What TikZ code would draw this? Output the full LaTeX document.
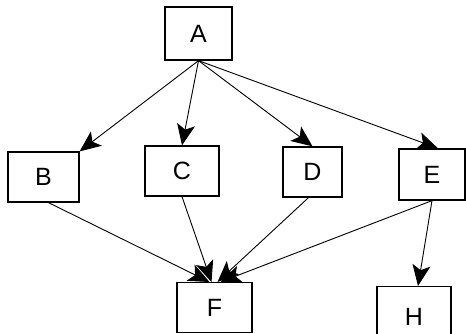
\documentclass[tikz,border=0pt]{standalone}
\usepackage{fontspec}
\setsansfont{Liberation Sans}
\usepackage{tikz}
\usetikzlibrary{arrows.meta}

\begin{document}
\begin{tikzpicture}[x=1pt,y=-1pt,
    box/.style={draw,line width=1.3pt,inner sep=0pt,
        font=\sffamily\fontsize{25}{29}\selectfont},
    topbox/.style={box,anchor=north,text height=18pt,text depth=0pt,
        inner ysep=6pt},
    arr/.style={-{Stealth[length=21pt,width=18pt,inset=5pt]},line width=0.9pt}]
    \useasboundingbox (0,0) rectangle (466,334);
    \clip (0,0) rectangle (466,334);
    \fill[white] (0,0) rectangle (466,334);
    \node[box,minimum width=67pt,minimum height=53pt] (A) at (198.5,33.5) {A};
    \node[box,minimum width=71pt,minimum height=50pt] (B) at (43.5,177) {B};
    \node[box,minimum width=74pt,minimum height=50pt] (C) at (182,171) {C};
    \node[box,minimum width=59pt,minimum height=50pt] (D) at (312.5,172) {D};
    \node[box,minimum width=66pt,minimum height=51pt] (E) at (432,174.5) {E};
    \node[topbox,minimum width=75pt,minimum height=50pt] (F) at (214.5,282) {F};
    \node[topbox,minimum width=74pt,minimum height=60pt] (H) at (414,286) {H};
    % edges from A
    \draw[arr] (A.south) -- (B.north east);
    \draw[arr] (A.south) -- (C.north);
    \draw[arr] (A.south) -- (D.north);
    \draw[arr] (A.south) -- ([xshift=6pt]E.north);
    % edges into F and H
    \draw[arr] ([xshift=5pt]B.south) -- ([xshift=-5pt]F.north);
    \draw[arr] (C.south) -- ([xshift=-3pt]F.north);
    \draw[arr] ([xshift=-4pt]D.south) -- ([xshift=3pt]F.north);
    \draw[arr] (E.south) -- ([xshift=6pt]F.north);
    \draw[arr] (E.south) -- ([xshift=4pt]H.north);
\end{tikzpicture}
\end{document}
